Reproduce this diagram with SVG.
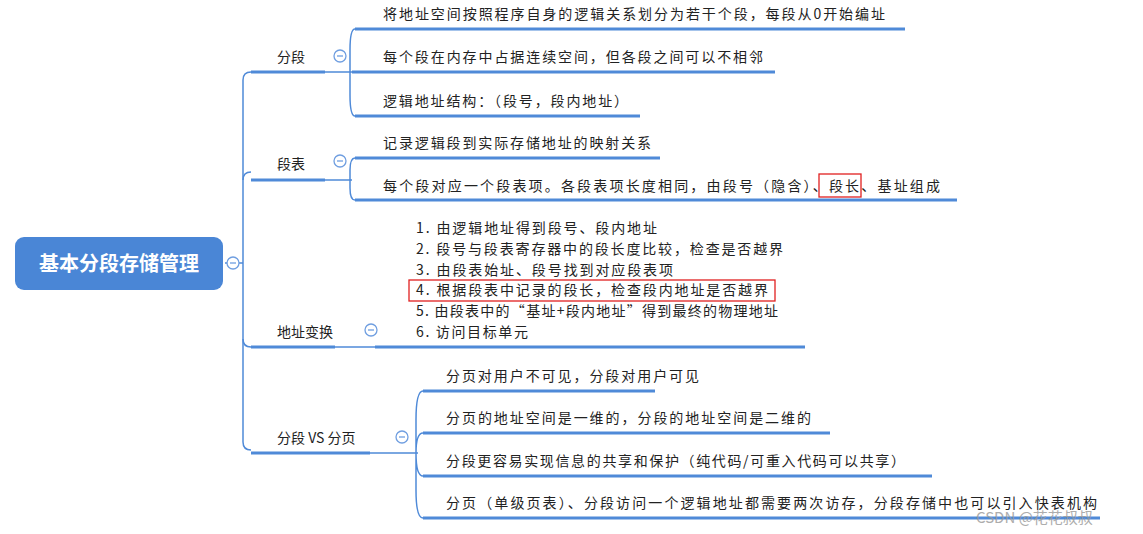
<svg xmlns="http://www.w3.org/2000/svg" width="1143" height="534" viewBox="0 0 1143 534">
<style>
text{font-family:"Noto Sans CJK SC","Liberation Sans",sans-serif;font-size:14px;fill:#222}
.ln{fill:none;stroke:#4f8ad8;stroke-width:1.5}
.ul{fill:none;stroke:#4f8ad8;stroke-width:3}
.cc{fill:#fff;stroke:#6f9ee0;stroke-width:1.3}
.cm{stroke:#6f9ee0;stroke-width:1.3}
.red{fill:none;stroke:#e02020;stroke-width:1.3}
</style>
<rect width="1143" height="534" fill="#fff"/>
<g id="connectors">
<path class="ln" d="M225,263 H243 M251,72 Q243,72 243,80 V442 Q243,450 251,450"/>
<path class="ln" d="M243,180 Q243,172 251,172"/>
<path class="ln" d="M243,339 Q243,347 251,347"/>
<path class="ln" d="M325,72 H352 M355,29 Q350,29 350,50 V95 Q350,116 355,116"/>
<path class="ln" d="M325,180 H352 M355,158 Q350,158 350,170 V188 Q350,200 355,200"/>
<path class="ln" d="M335,347 H375"/>
<path class="ln" d="M370,453 H418 M423,391 Q416,391 416,420 V490 Q416,518 423,518 M416,453 Q416,433 423,433 M416,453 Q416,476 423,476"/>
</g>
<g id="root">
<rect x="15" y="237" width="208" height="53" rx="9" fill="#4a86d6"/>
<text x="119" y="271" text-anchor="middle" style="font-size:20px;font-weight:bold;fill:#fff">基本分段存储管理</text>
<circle class="cc" cx="233" cy="263" r="6"/><line class="cm" x1="230" y1="263" x2="236" y2="263"/>
</g>
<g id="n-fenduan">
<text x="277" y="62">分段</text>
<line class="ul" x1="251" y1="72" x2="325" y2="72"/>
<circle class="cc" cx="340" cy="56" r="6"/><line class="cm" x1="337" y1="56" x2="343" y2="56"/>
</g>
<g id="n-fd1"><text x="383" y="19" textLength="502" lengthAdjust="spacing">将地址空间按照程序自身的逻辑关系划分为若干个段，每段从0开始编址</text><line class="ul" x1="355" y1="29" x2="905" y2="29"/></g>
<g id="n-fd2"><text x="383" y="62" textLength="380" lengthAdjust="spacing">每个段在内存中占据连续空间，但各段之间可以不相邻</text><line class="ul" x1="352" y1="72" x2="775" y2="72"/></g>
<g id="n-fd3"><text x="383" y="106" textLength="245" lengthAdjust="spacing">逻辑地址结构：（段号，段内地址）</text><line class="ul" x1="355" y1="116" x2="640" y2="116"/></g>
<g id="n-duanbiao">
<text x="277" y="169">段表</text>
<line class="ul" x1="251" y1="180" x2="325" y2="180"/>
<circle class="cc" cx="340" cy="161" r="6"/><line class="cm" x1="337" y1="161" x2="343" y2="161"/>
</g>
<g id="n-db1"><text x="383" y="148" textLength="268" lengthAdjust="spacing">记录逻辑段到实际存储地址的映射关系</text><line class="ul" x1="355" y1="158" x2="660" y2="158"/></g>
<g id="n-db2"><text x="383" y="191" textLength="557" lengthAdjust="spacing">每个段对应一个段表项。各段表项长度相同，由段号（隐含）、段长、基址组成</text><rect class="red" x="819" y="174" width="42" height="23"/><line class="ul" x1="355" y1="200" x2="957" y2="200"/></g>
<g id="n-addr">
<text x="277" y="337">地址变换</text>
<line class="ul" x1="251" y1="347" x2="335" y2="347"/>
<circle class="cc" cx="371" cy="330" r="6"/><line class="cm" x1="368" y1="330" x2="374" y2="330"/>
</g>
<g id="n-addr-list">
<text x="416" y="233" textLength="241" lengthAdjust="spacing">1. 由逻辑地址得到段号、段内地址</text>
<text x="416" y="254" textLength="367" lengthAdjust="spacing">2. 段号与段表寄存器中的段长度比较，检查是否越界</text>
<text x="416" y="275" textLength="257" lengthAdjust="spacing">3. 由段表始址、段号找到对应段表项</text>
<text x="416" y="295" textLength="352" lengthAdjust="spacing">4. 根据段表中记录的段长，检查段内地址是否越界</text>
<rect class="red" x="409" y="280" width="366" height="21"/>
<text x="416" y="316" textLength="362" lengthAdjust="spacing">5. 由段表中的“基址+段内地址”得到最终的物理地址</text>
<text x="416" y="337" textLength="112" lengthAdjust="spacing">6. 访问目标单元</text>
<line class="ul" x1="375" y1="347" x2="805" y2="347"/>
</g>
<g id="n-vs">
<text x="277" y="443">分段 VS 分页</text>
<line class="ul" x1="251" y1="453" x2="370" y2="453"/>
<circle class="cc" cx="402" cy="437" r="6"/><line class="cm" x1="399" y1="437" x2="405" y2="437"/>
</g>
<g id="n-vs1"><text x="446" y="381" textLength="253" lengthAdjust="spacing">分页对用户不可见，分段对用户可见</text><line class="ul" x1="423" y1="391" x2="655" y2="391"/></g>
<g id="n-vs2"><text x="446" y="423" textLength="365" lengthAdjust="spacing">分页的地址空间是一维的，分段的地址空间是二维的</text><line class="ul" x1="423" y1="433" x2="830" y2="433"/></g>
<g id="n-vs3"><text x="446" y="466" textLength="459" lengthAdjust="spacing">分段更容易实现信息的共享和保护（纯代码/可重入代码可以共享）</text><line class="ul" x1="423" y1="476" x2="932" y2="476"/></g>
<g id="n-vs4"><text x="446" y="508" textLength="651" lengthAdjust="spacing">分页（单级页表）、分段访问一个逻辑地址都需要两次访存，分段存储中也可以引入快表机构</text><line class="ul" x1="423" y1="518" x2="1100" y2="518"/></g>
<text x="976" y="523" style="font-size:15px;fill:#999;opacity:0.8">CSDN @花花叔叔</text>
</svg>
